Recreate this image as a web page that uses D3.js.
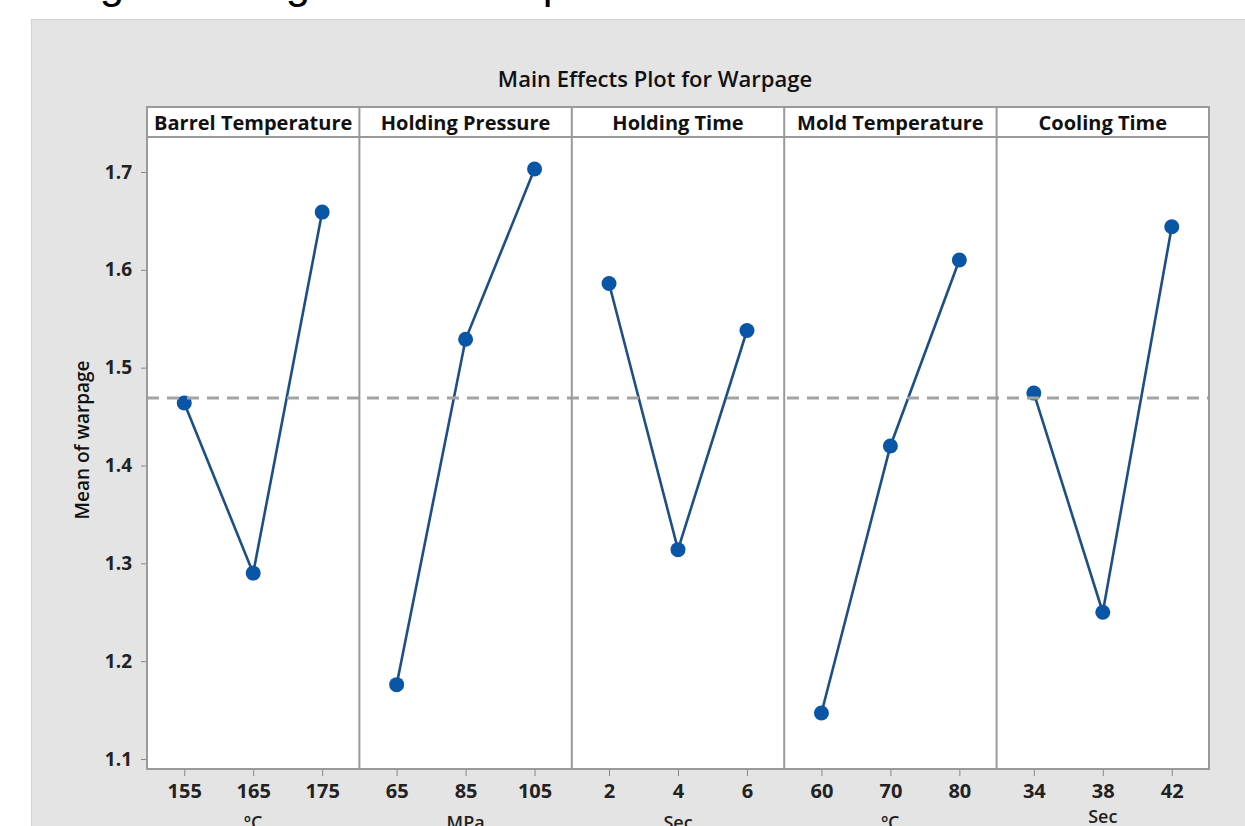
<!DOCTYPE html>
<html>
<head>
<meta charset="utf-8">
<script src="https://cdn.jsdelivr.net/npm/d3@7"></script>
<style>
  body { margin: 0; background: #fff; overflow: hidden; }
  svg { display: block; font-family: "Open Sans", "DejaVu Sans", sans-serif; }
</style>
</head>
<body>
<div id="plot"></div>
<script>
// factors, their levels, units and the level means
var factors = ["Barrel Temperature", "Holding Pressure", "Holding Time", "Mold Temperature", "Cooling Time"];
var levels  = [["155", "165", "175"], ["65", "85", "105"], ["2", "4", "6"], ["60", "70", "80"], ["34", "38", "42"]];
var units   = ["\u00baC", "MPa", "Sec", "\u00baC", "Sec"];
var means   = [
  [1.464, 1.290, 1.659],
  [1.176, 1.529, 1.703],
  [1.586, 1.314, 1.538],
  [1.147, 1.420, 1.610],
  [1.474, 1.250, 1.644]
];
var grandMean = 1.469;
var yTicks = [1.1, 1.2, 1.3, 1.4, 1.5, 1.6, 1.7];

var width = 1245, height = 826;
var plotLeft = 147, plotRight = 1209, stripTop = 107, plotTop = 137, plotBottom = 769;

var svg = d3.select("#plot").append("svg")
  .attr("width", width)
  .attr("height", height);

// cropped caption text from the page above the figure
svg.append("text")
  .attr("x", 58).attr("y", -2)
  .style("font-family", "'Liberation Sans', Arial, sans-serif")
  .style("font-size", "44px")
  .style("letter-spacing", "3.7px")
  .attr("fill", "#000")
  .text("ing of image are compared");

// grey figure background
svg.append("rect")
  .attr("x", 31.5).attr("y", 19.5)
  .attr("width", width - 31).attr("height", height - 19)
  .attr("fill", "#e4e4e4")
  .attr("stroke", "#d2d2d2");

svg.append("text")
  .attr("x", 655).attr("y", 87)
  .attr("text-anchor", "middle")
  .style("font-size", "22px").style("font-weight", 600)
  .attr("fill", "#111")
  .text("Main Effects Plot for Warpage");

var y_scale = d3.scaleLinear().domain([1.1, 1.7]).range([759, 172]);
var panel = d3.scaleBand().domain(factors).range([plotLeft, plotRight]);

// white plot + strip area
svg.append("rect")
  .attr("x", plotLeft).attr("y", stripTop)
  .attr("width", plotRight - plotLeft).attr("height", plotBottom - stripTop)
  .attr("fill", "#fff");

// y axis
var yAxis = svg.append("g")
  .attr("transform", "translate(" + plotLeft + ",0)")
  .call(d3.axisLeft(y_scale).tickValues(yTicks).tickFormat(d3.format(".1f")).tickSize(6).tickPadding(9));
yAxis.select(".domain").remove();
yAxis.selectAll("line").attr("stroke", "#888");
yAxis.selectAll("text")
  .style("font-size", "19px").style("font-weight", 700)
  .style("font-family", "'Open Sans', sans-serif")
  .attr("fill", "#222");

svg.append("text")
  .attr("transform", "translate(89,440) rotate(-90)")
  .attr("text-anchor", "middle")
  .style("font-size", "19px").style("font-weight", 600)
  .attr("fill", "#111")
  .text("Mean of warpage");

var v_line = d3.line();

factors.forEach(function (f, i) {
  var x0 = panel(f);
  var bw = panel.bandwidth();
  var x_scale = d3.scalePoint().domain(levels[i]).range([0, bw]).padding(0.54);

  var g = svg.append("g").attr("transform", "translate(" + x0 + ",0)");

  // strip label
  g.append("text")
    .attr("x", bw / 2).attr("y", 130)
    .attr("text-anchor", "middle")
    .style("font-size", "20px").style("font-weight", 700)
    .attr("fill", "#111")
    .text(f);

  // bottom axis
  var ax = g.append("g")
    .attr("transform", "translate(0," + plotBottom + ")")
    .call(d3.axisBottom(x_scale).tickSize(7).tickPadding(8));
  ax.select(".domain").remove();
  ax.selectAll("line").attr("stroke", "#888");
  ax.selectAll("text")
    .style("font-size", "20px").style("font-weight", 700)
    .style("font-family", "'Open Sans', sans-serif")
    .attr("fill", "#222");

  g.append("text")
    .attr("x", bw / 2).attr("y", i == 4 ? 823 : 829)
    .attr("text-anchor", "middle")
    .style("font-size", "18px").style("font-weight", 600)
    .attr("fill", "#222")
    .text(units[i]);

  var pts = means[i].map(function (d, j) { return [x_scale(levels[i][j]), y_scale(d)]; });

  g.append("path")
    .attr("class", "v_line")
    .attr("d", v_line(pts))
    .attr("fill", "none")
    .attr("stroke", "#1b4f86")
    .attr("stroke-width", 2.6);

  g.selectAll("circle").data(pts).enter().append("circle")
    .attr("cx", function (d) { return d[0]; })
    .attr("cy", function (d) { return d[1]; })
    .attr("r", 7.5)
    .attr("fill", "#0a56a6");
});

// grand mean reference line
svg.append("line")
  .attr("x1", plotLeft).attr("x2", plotRight)
  .attr("y1", y_scale(grandMean)).attr("y2", y_scale(grandMean))
  .attr("stroke", "#a3a3a3")
  .attr("stroke-width", 3)
  .attr("stroke-dasharray", "12,8");

// panel borders and strip divider
var frame = svg.append("g").attr("fill", "none").attr("stroke", "#9a9a9a").attr("stroke-width", 2);
frame.append("rect")
  .attr("x", plotLeft).attr("y", stripTop)
  .attr("width", plotRight - plotLeft).attr("height", plotBottom - stripTop);
frame.append("line")
  .attr("x1", plotLeft).attr("x2", plotRight)
  .attr("y1", plotTop).attr("y2", plotTop);
factors.slice(1).forEach(function (f) {
  frame.append("line")
    .attr("x1", panel(f)).attr("x2", panel(f))
    .attr("y1", stripTop).attr("y2", plotBottom);
});
</script>
</body>
</html>
